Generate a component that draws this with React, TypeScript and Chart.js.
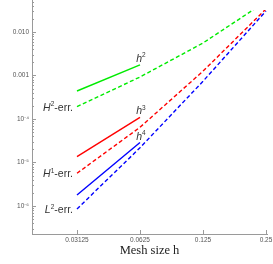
import React, { useEffect, useRef } from "react";
import { Chart, registerables } from "chart.js";

Chart.register(...registerables);

// ---- data ----
const meshSizes = [0.03125, 0.0625, 0.125, 0.25];
const h2Err = [1.92e-4, 9.24e-4, 5.58e-3, 0.0505];
const h1Err = [5.65e-6, 6.44e-5, 1.256e-3, 0.0338];
const l2Err = [8.53e-7, 2.18e-5, 7.36e-4, 0.0304];

const refMesh = [0.03125, 0.0625];
const refH2 = [4.4e-4, 1.76e-3];
const refH3 = [1.36e-5, 1.09e-4];
const refH4 = [1.79e-6, 2.87e-5];

const xTickValues = [0.03125, 0.0625, 0.125, 0.25];
const xTickLabels = ["0.03125", "0.0625", "0.125", "0.25"];
const yTickValues = [1e-6, 1e-5, 1e-4, 1e-3, 1e-2];
const yTickLabels = ["10⁻⁶", "10⁻⁵", "10⁻⁴", "0.001", "0.010"];

const xMin = 0.01905;
const xMax = 0.2528;
const yMin = 2.27e-7;
const yMax = 0.0544;

const GREEN = "rgb(0,235,0)";
const RED = "rgb(255,0,0)";
const BLUE = "rgb(0,0,255)";

type Part = { t: string; i?: boolean; s?: boolean };

function drawRich(ctx: CanvasRenderingContext2D, parts: Part[], x: number, y: number, align: "right" | "center", size: number) {
  const fam = "'Liberation Sans', Arial, sans-serif";
  const fontFor = (p: Part) => `${p.i ? "italic " : ""}${p.s ? size * 0.62 : size}px ${fam}`;
  let total = 0;
  const widths = parts.map((p) => {
    ctx.font = fontFor(p);
    const w = ctx.measureText(p.t).width;
    total += w;
    return w;
  });
  let cx = align === "right" ? x - total : x - total / 2;
  ctx.textAlign = "left";
  ctx.textBaseline = "alphabetic";
  parts.forEach((p, k) => {
    ctx.font = fontFor(p);
    ctx.fillText(p.t, cx, p.s ? y - size * 0.42 : y);
    cx += widths[k];
  });
}

const decorPlugin = {
  id: "decor",
  afterDraw(chart: any) {
    const ctx: CanvasRenderingContext2D = chart.ctx;
    const xs = chart.scales.x;
    const ys = chart.scales.y;
    const area = chart.chartArea;
    ctx.save();
    ctx.strokeStyle = "#9a9a9a";
    ctx.lineWidth = 1;
    // y ticks (inward)
    for (let e = -7; e <= -1; e++) {
      for (let m = 1; m <= 9; m++) {
        const v = m * Math.pow(10, e);
        if (v < yMin || v > yMax) continue;
        const py = Math.round(ys.getPixelForValue(v)) + 0.5;
        const len = m === 1 ? 4 : 2;
        ctx.beginPath();
        ctx.moveTo(area.left, py);
        ctx.lineTo(area.left + len, py);
        ctx.stroke();
      }
    }
    // x ticks (inward)
    xTickValues.forEach((v) => {
      const px = Math.round(xs.getPixelForValue(v)) + 0.5;
      ctx.beginPath();
      ctx.moveTo(px, area.bottom);
      ctx.lineTo(px, area.bottom - 4);
      ctx.stroke();
    });

    // series labels
    ctx.fillStyle = "#333";
    const errLabels: { parts: Part[]; y: number }[] = [
      { parts: [{ t: "H", i: true }, { t: "2", s: true }, { t: "-err." }], y: h2Err[0] },
      { parts: [{ t: "H", i: true }, { t: "1", s: true }, { t: "-err." }], y: h1Err[0] },
      { parts: [{ t: "L", i: true }, { t: "2", s: true }, { t: "-err." }], y: l2Err[0] },
    ];
    errLabels.forEach((l) => {
      const px = xs.getPixelForValue(meshSizes[0]);
      const py = ys.getPixelForValue(l.y);
      drawRich(ctx, l.parts, px - 4, py + 4, "right", 10.5);
    });
    const refLabels: { parts: Part[]; y: number }[] = [
      { parts: [{ t: "h", i: true }, { t: "2", s: true }], y: refH2[1] },
      { parts: [{ t: "h", i: true }, { t: "3", s: true }], y: refH3[1] },
      { parts: [{ t: "h", i: true }, { t: "4", s: true }], y: refH4[1] },
    ];
    refLabels.forEach((l) => {
      const px = xs.getPixelForValue(refMesh[1]);
      const py = ys.getPixelForValue(l.y);
      drawRich(ctx, l.parts, px + 1, py - 3, "center", 10.5);
    });
    ctx.restore();
  },
};

export default function App() {
  const ref = useRef<HTMLCanvasElement | null>(null);
  useEffect(() => {
    document.body.style.margin = "0";
    const canvas = ref.current;
    if (!canvas) return;
    const pts = (xsArr: number[], ysArr: number[]) => xsArr.map((x, i) => ({ x, y: ysArr[i] }));
    const clip = { left: 0, top: -10, right: 2, bottom: 0 };
    const dash = [4, 2.5];
    const chart = new Chart(canvas, {
      type: "line",
      data: {
        datasets: [
          { data: pts(refMesh, refH2), borderColor: GREEN, borderWidth: 1.4, pointRadius: 0, clip },
          { data: pts(meshSizes, h2Err), borderColor: GREEN, borderWidth: 1.4, borderDash: dash, pointRadius: 0, clip },
          { data: pts(refMesh, refH3), borderColor: RED, borderWidth: 1.4, pointRadius: 0, clip },
          { data: pts(meshSizes, h1Err), borderColor: RED, borderWidth: 1.4, borderDash: dash, pointRadius: 0, clip },
          { data: pts(refMesh, refH4), borderColor: BLUE, borderWidth: 1.4, pointRadius: 0, clip },
          { data: pts(meshSizes, l2Err), borderColor: BLUE, borderWidth: 1.4, borderDash: dash, pointRadius: 0, clip },
        ] as any,
      },
      options: {
        animation: false,
        responsive: false,
        devicePixelRatio: 1,
        layout: { padding: { left: 0, right: 6, top: 0, bottom: 0 } },
        plugins: { legend: { display: false }, tooltip: { enabled: false } },
        scales: {
          x: {
            type: "logarithmic",
            min: xMin,
            max: xMax,
            bounds: "data",
            grid: { display: false, drawTicks: false },
            border: { display: true, color: "#9a9a9a", width: 1 },
            afterBuildTicks: (s: any) => {
              s.ticks = xTickValues.map((v) => ({ value: v }));
            },
            afterFit: (s: any) => {
              s.height = 30;
              s.paddingLeft = 0;
              s.paddingRight = 0;
            },
            ticks: {
              autoSkip: false,
              maxRotation: 0,
              minRotation: 0,
              padding: 2,
              color: "#555",
              font: { size: 6.5, family: "'Liberation Sans', Arial, sans-serif" },
              callback: (_v: any, i: number) => xTickLabels[i],
            },
            title: {
              display: true,
              text: "Mesh size h",
              color: "#222",
              font: { size: 12.5, family: "'Liberation Serif', 'Times New Roman', serif" },
              padding: { top: 0, bottom: 6 },
            },
          },
          y: {
            type: "logarithmic",
            min: yMin,
            max: yMax,
            bounds: "data",
            grid: { display: false, drawTicks: false },
            border: { display: true, color: "#9a9a9a", width: 1 },
            afterBuildTicks: (s: any) => {
              s.ticks = yTickValues.map((v) => ({ value: v }));
            },
            afterFit: (s: any) => {
              s.width = 32;
              s.paddingTop = 0;
              s.paddingBottom = 0;
            },
            ticks: {
              autoSkip: false,
              padding: 3,
              color: "#555",
              font: { size: 6.5, family: "'Liberation Sans', Arial, sans-serif" },
              callback: (_v: any, i: number) => yTickLabels[i],
            },
          },
        },
      } as any,
      plugins: [decorPlugin],
    });
    return () => chart.destroy();
  }, []);
  return <canvas ref={ref} width={273} height={264} style={{ display: "block" }} />;
}
